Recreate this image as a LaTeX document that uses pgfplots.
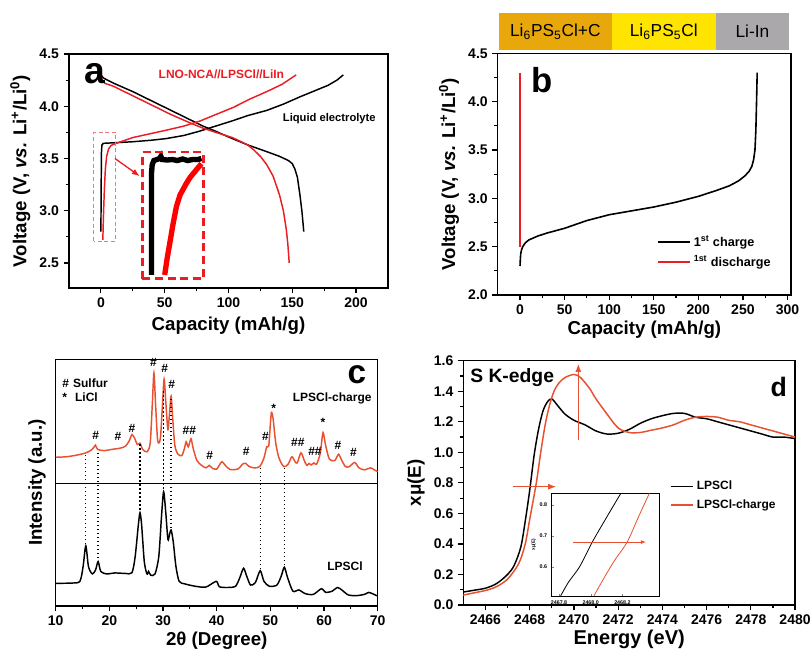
\documentclass[border=0pt]{standalone}
\usepackage{pgfplots}
\pgfplotsset{compat=1.18}
\usetikzlibrary{arrows.meta}
\usepackage{fontspec}
\setmainfont{Liberation Sans}
\definecolor{ored}{RGB}{232,80,48}
\definecolor{pred}{RGB}{236,28,36}
\definecolor{barorange}{RGB}{232,168,12}
\definecolor{baryellow}{RGB}{255,228,0}
\definecolor{bargray}{RGB}{170,168,170}
\pgfplotsset{
  panel/.style={
    scale only axis,
    anchor=south west,
    axis line style={line width=1.1pt},
    tick align=outside,
    tick pos=left,
    major tick length=4pt, minor tick length=2.5pt,
    every tick/.style={line width=0.9pt, black},
    tick label style={font=\fontsize{10.5}{12}\selectfont\bfseries},
    label style={font=\fontsize{14}{16}\selectfont\bfseries},
    /pgf/number format/assume math mode=true,
    /pgf/number format/1000 sep={},
    clip=false,
  },
  onedec/.style={/pgf/number format/.cd, fixed, fixed zerofill, precision=1},
  leglines/.style={legend image code/.code={\draw[mark repeat=2,mark phase=2,##1] plot coordinates {(0cm,0cm) (#1/2,0cm) (#1,0cm)};}},
}
\begin{document}
\begin{tikzpicture}
\useasboundingbox (0,0) rectangle (608.25pt,487.5pt);
% ---------------- panel a ----------------
\begin{axis}[panel, at={(51.75pt,271.5pt)}, width=239.25pt, height=175.5pt,
  xmin=-25, xmax=225, ymin=2.26, ymax=4.5,
  xtick={0,50,100,150,200}, ytick={2.5,3.0,3.5,4.0,4.5}, minor tick num=1,
  yticklabel style={onedec},
  xlabel={Capacity (mAh/g)},
  ylabel={Voltage (V, \textit{vs.} Li\textsuperscript{+}/Li\textsuperscript{0})}]
\addplot[black, line width=1.1pt] coordinates {(0,2.80)(0.2,3.2)(0.4,3.55)(0.8,3.63)(2,3.645)(10,3.65)(25,3.66)(40,3.675)(51,3.69)(65,3.72)(77,3.76)(90,3.81)(103,3.86)(115,3.91)(130,3.96)(143,4.02)(156,4.09)(168,4.15)(178,4.2)(185,4.25)(190,4.30)};
\addplot[black, line width=1.1pt] coordinates {(0,4.30)(2,4.27)(10,4.22)(25,4.14)(40,4.05)(55,3.96)(70,3.87)(80,3.81)(90,3.76)(103,3.69)(115,3.63)(130,3.565)(140,3.52)(147,3.48)(150,3.45)(152,3.40)(154,3.32)(156,3.15)(157.5,3.0)(159,2.80)};
\addplot[pred, line width=1.1pt] coordinates {(1.5,2.72)(2,2.95)(2.7,3.2)(3.5,3.4)(4.5,3.52)(6,3.59)(8,3.625)(12,3.645)(25,3.70)(51,3.77)(65,3.81)(78,3.86)(90,3.92)(104,3.99)(117,4.07)(130,4.14)(142,4.21)(153,4.30)};
\addplot[pred, line width=1.1pt] coordinates {(0,4.30)(1,4.25)(3,4.22)(10,4.19)(25,4.10)(40,4.01)(55,3.92)(70,3.84)(80,3.79)(90,3.75)(103,3.70)(110,3.66)(115,3.63)(120,3.58)(125,3.52)(130,3.44)(135,3.33)(140,3.15)(143,3.0)(145.3,2.82)(146.5,2.68)(147.6,2.5)};
% zoomed inset drawn in axis units
\addplot[black, line width=4pt] coordinates {(39.6,2.385)(39.6,3.35)(40.2,3.44)(41.5,3.48)(44,3.49)(46,3.50)(47,3.52)(48,3.49)(52,3.485)(56,3.49)(60,3.48)(64,3.495)(68,3.48)(72,3.49)(76,3.49)(78.8,3.50)};
\addplot[red, line width=4pt] coordinates {(50,2.385)(52,2.55)(54,2.69)(56.5,2.87)(59.2,3.04)(62,3.15)(66.9,3.26)(70,3.32)(74.7,3.39)(78.8,3.45)};
\draw[pred!60, densely dashed, line width=0.6pt] (axis cs:-5.5,2.71) rectangle (axis cs:11.7,3.75);
\draw[pred, line width=1.8pt, dash pattern=on 6pt off 3.5pt] (axis cs:32.6,2.35) rectangle (axis cs:80.5,3.56);
\draw[-{Latex[length=6pt]}, pred, line width=1pt] (axis cs:11,3.50) -- (axis cs:30.5,3.33);
\node[font=\fontsize{28}{30}\selectfont\bfseries] at (axis cs:-4.7,4.31) {a};
\node[pred, font=\fontsize{9}{10}\selectfont\bfseries] at (axis cs:94.4,4.31) {LNO-NCA//LPSCl//LiIn};
\node[font=\fontsize{8.4}{10}\selectfont\bfseries] at (axis cs:179,3.88) {Liquid electrolyte};
\end{axis}
% ---------------- panel b ----------------
\fill[barorange] (374.25pt,450pt) rectangle (458.8pt,477.75pt);
\fill[baryellow] (458.8pt,450pt) rectangle (536.8pt,477.75pt);
\fill[bargray] (536.8pt,450pt) rectangle (591.75pt,477.75pt);
\node[font=\fontsize{13}{14}\selectfont] at (416.5pt,463.9pt) {Li\textsubscript{6}PS\textsubscript{5}Cl+C};
\node[font=\fontsize{13}{14}\selectfont] at (497.8pt,463.9pt) {Li\textsubscript{6}PS\textsubscript{5}Cl};
\node[font=\fontsize{13}{14}\selectfont] at (564.3pt,463.9pt) {Li-In};
\begin{axis}[panel, at={(373.3pt,266.25pt)}, width=220pt, height=181.3pt,
  xmin=-25, xmax=304, ymin=2, ymax=4.5,
  xtick={0,50,100,150,200,250,300}, ytick={2.0,2.5,3.0,3.5,4.0,4.5}, minor tick num=1,
  yticklabel style={onedec},
  xlabel={Capacity (mAh/g)}, xlabel style={yshift=2pt},
  ylabel={Voltage (V, \textit{vs.} Li\textsuperscript{+}/Li\textsuperscript{0})},
  legend style={draw=none, fill=none, at={(0.53,0.27)}, anchor=north west,
    font=\fontsize{9.5}{11}\selectfont\bfseries, row sep=1.5pt},
  legend cell align=left, leglines=0.84cm]
\addplot[black, line width=1.2pt] coordinates {(0,2.30)(0.3,2.36)(0.7,2.42)(1.5,2.46)(3,2.5)(6,2.54)(10,2.57)(20,2.61)(30,2.64)(50,2.69)(75,2.77)(100,2.83)(125,2.87)(150,2.91)(175,2.96)(200,3.02)(220,3.08)(235,3.13)(245,3.18)(252,3.23)(257,3.28)(260,3.33)(262,3.40)(263.5,3.5)(264.5,3.7)(265.3,4.0)(266,4.3)};
\addlegendentry{1\textsuperscript{st} charge}
\addplot[pred, line width=1.4pt] coordinates {(0,2.5)(0,4.3)};
\addlegendentry{\textsuperscript{1st} discharge}
\node[font=\fontsize{26}{28}\selectfont\bfseries] at (axis cs:24.3,4.22) {b};
\end{axis}
% ---------------- panel c ----------------
\begin{axis}[panel, at={(41.8pt,33pt)}, width=241.5pt, height=185pt,
  xmin=10, xmax=70, ymin=0, ymax=1,
  xtick={10,20,30,40,50,60,70}, ytick=\empty, minor x tick num=1,
  xlabel={2θ (Degree)}, xlabel style={yshift=2pt}, ylabel={Intensity (a.u.)}]
\addplot[ored, line width=1.1pt, smooth, tension=0.45] coordinates {(10,0.603)(12,0.605)(14,0.612)(15.5,0.62)(16.5,0.63)(17.0,0.64)(17.4,0.652)(17.8,0.635)(19,0.63)(20.5,0.635)(22,0.64)(23,0.648)(23.7,0.67)(24.2,0.695)(24.7,0.68)(25.2,0.655)(25.7,0.66)(26.2,0.635)(27,0.625)(27.6,0.66)(28.0,0.82)(28.3,0.945)(28.6,0.82)(29.0,0.67)(29.5,0.68)(29.9,0.82)(30.2,0.92)(30.5,0.83)(30.9,0.715)(31.2,0.78)(31.5,0.85)(31.8,0.76)(32.2,0.65)(32.8,0.615)(33.5,0.61)(34.0,0.64)(34.3,0.666)(34.7,0.645)(35.2,0.678)(35.6,0.64)(36.3,0.59)(37.2,0.57)(38.0,0.56)(38.6,0.57)(39.2,0.558)(40.0,0.555)(40.6,0.575)(41.0,0.585)(41.6,0.57)(42.5,0.553)(44.0,0.556)(44.8,0.575)(45.4,0.578)(46,0.566)(47,0.56)(48,0.565)(48.8,0.6)(49.3,0.645)(49.7,0.65)(50.0,0.74)(50.2,0.785)(50.5,0.76)(51.0,0.66)(51.6,0.6)(52.5,0.565)(53.3,0.575)(54.0,0.605)(54.6,0.585)(55.0,0.58)(55.7,0.621)(56.3,0.59)(56.8,0.57)(57.2,0.578)(57.6,0.572)(58.1,0.58)(58.6,0.575)(59.3,0.62)(59.8,0.703)(60.3,0.65)(61,0.595)(62,0.59)(62.7,0.615)(63.3,0.59)(64,0.565)(64.7,0.565)(65.7,0.582)(66.5,0.56)(67.5,0.552)(68.7,0.56)(69.5,0.55)(70,0.545)};
\addplot[black, line width=1.1pt, smooth, tension=0.45] coordinates {(10,0.092)(13,0.093)(14.5,0.10)(15.1,0.16)(15.6,0.244)(16.1,0.16)(16.8,0.13)(17.4,0.145)(17.9,0.18)(18.4,0.14)(19.5,0.13)(21,0.134)(23,0.132)(24.2,0.135)(24.8,0.2)(25.4,0.33)(25.7,0.378)(26.0,0.33)(26.5,0.18)(27.0,0.13)(27.3,0.14)(27.7,0.125)(28.5,0.13)(29.2,0.2)(29.7,0.36)(30.1,0.463)(30.5,0.38)(30.9,0.27)(31.2,0.29)(31.5,0.308)(31.9,0.26)(32.4,0.16)(33,0.1)(34,0.09)(36,0.08)(38,0.077)(39.9,0.1)(40.5,0.078)(42,0.075)(43.5,0.08)(44.3,0.115)(45,0.153)(45.6,0.12)(46.3,0.085)(47.2,0.095)(48.1,0.143)(48.8,0.1)(49.8,0.08)(51.2,0.085)(52,0.12)(52.6,0.157)(53.2,0.115)(54.2,0.06)(55.3,0.065)(56.5,0.05)(58,0.047)(59.5,0.07)(60.3,0.055)(61.5,0.06)(62.5,0.075)(63.3,0.065)(64.5,0.045)(66,0.042)(67.5,0.047)(68.3,0.055)(69,0.05)(70,0.04)};
\addplot[black, line width=1.1pt] coordinates {(10,0.497)(70,0.497)};
\addplot[black, dotted, line width=1pt] coordinates {(15.6,0.612)(15.6,0.25)};
\addplot[black, dotted, line width=1pt] coordinates {(17.9,0.62)(17.9,0.19)};
\addplot[black, dotted, line width=1pt] coordinates {(25.7,0.655)(25.7,0.385)};
\addplot[black, dotted, line width=1pt] coordinates {(30.1,0.87)(30.1,0.47)};
\addplot[black, dotted, line width=1pt] coordinates {(31.5,0.84)(31.5,0.315)};
\addplot[black, dotted, line width=1pt] coordinates {(48.1,0.56)(48.1,0.15)};
\addplot[black, dotted, line width=1pt] coordinates {(52.6,0.56)(52.6,0.165)};
\begin{scope}[every node/.style={font=\fontsize{9}{10}\selectfont\bfseries, inner sep=0pt}]
\node[anchor=west] at (axis cs:11.2,0.905) {\#\,\,Sulfur};
\node[anchor=west] at (axis cs:11.2,0.845) {*\,\,\,\,LiCl};
\node[anchor=east] at (axis cs:68.9,0.842) {LPSCl-charge};
\node at (axis cs:63.9,0.162) {LPSCl};
\node at (axis cs:17.45,0.693) {\#};
\node at (axis cs:21.6,0.686) {\#};
\node at (axis cs:24.2,0.72) {\#};
\node at (axis cs:28.2,0.988) {\#};
\node at (axis cs:30.3,0.963) {\#};
\node at (axis cs:31.6,0.90) {\#};
\node at (axis cs:34.9,0.713) {\#\#};
\node at (axis cs:38.7,0.612) {\#};
\node at (axis cs:45.5,0.628) {\#};
\node at (axis cs:49.1,0.689) {\#};
\node at (axis cs:55.1,0.662) {\#\#};
\node at (axis cs:58.3,0.625) {\#\#};
\node at (axis cs:62.6,0.65) {\#};
\node at (axis cs:65.5,0.621) {\#};
\node at (axis cs:50.6,0.80) {*};
\node at (axis cs:59.8,0.745) {*};
\end{scope}
\node[font=\fontsize{25}{27}\selectfont\bfseries] at (axis cs:66.1,0.936) {c};
\end{axis}
% ---------------- panel d ----------------
\begin{axis}[panel, at={(347.5pt,33.75pt)}, width=248.8pt, height=183.2pt,
  xmin=2465, xmax=2480, ymin=0, ymax=1.6,
  xtick={2466,2468,...,2480}, ytick={0,0.2,...,1.6}, minor tick num=1,
  yticklabel style={onedec},
  xlabel={Energy (eV)}, xlabel style={yshift=3pt, font=\fontsize{15}{16}\selectfont\bfseries}, ylabel={xμ(E)},
  legend style={draw=none, fill=none, at={(0.61,0.53)}, anchor=north west,
    font=\fontsize{9}{10}\selectfont\bfseries, row sep=2pt},
  legend cell align=left, leglines=0.6cm]
\addplot[black, line width=1.1pt, smooth, tension=0.5] coordinates {(2465,0.085)(2465.5,0.097)(2466,0.11)(2466.5,0.14)(2467,0.2)(2467.3,0.26)(2467.6,0.38)(2467.8,0.55)(2468,0.75)(2468.2,0.98)(2468.4,1.15)(2468.6,1.27)(2468.8,1.33)(2469,1.35)(2469.3,1.3)(2469.6,1.25)(2470,1.21)(2470.5,1.18)(2471,1.14)(2471.5,1.12)(2472,1.125)(2472.5,1.15)(2473,1.19)(2473.5,1.22)(2474,1.24)(2474.5,1.255)(2475,1.255)(2475.5,1.23)(2476,1.22)(2476.5,1.2)(2477,1.18)(2477.5,1.16)(2478,1.14)(2478.5,1.12)(2479,1.1)(2479.5,1.1)(2480,1.09)};
\addlegendentry{LPSCl}
\addplot[ored, line width=1.1pt, smooth, tension=0.5] coordinates {(2465,0.065)(2465.5,0.08)(2466,0.095)(2466.5,0.12)(2467,0.17)(2467.5,0.27)(2467.8,0.4)(2468,0.56)(2468.3,0.8)(2468.5,1.0)(2468.7,1.18)(2468.9,1.31)(2469.1,1.4)(2469.3,1.45)(2469.6,1.49)(2470,1.51)(2470.3,1.49)(2470.7,1.42)(2471,1.35)(2471.5,1.25)(2472,1.16)(2472.5,1.13)(2473,1.13)(2473.5,1.145)(2474,1.16)(2474.5,1.18)(2475,1.21)(2475.5,1.23)(2476,1.235)(2476.5,1.23)(2477,1.21)(2477.5,1.2)(2478,1.18)(2478.5,1.16)(2479,1.14)(2479.5,1.12)(2480,1.1)};
\addlegendentry{LPSCl-charge}
\draw[-{Latex[length=6pt]}, ored, line width=1pt] (axis cs:2467.25,0.775) -- (axis cs:2469.2,0.775);
\draw[-{Latex[length=6pt]}, ored, line width=1pt] (axis cs:2470.2,1.08) -- (axis cs:2470.2,1.58);
\node[font=\fontsize{14.5}{16}\selectfont\bfseries, anchor=west] at (axis cs:2465.1,1.49) {S K-edge};
\node[font=\fontsize{20}{22}\selectfont\bfseries] at (axis cs:2479.26,1.43) {d};
\end{axis}
% inset of d
\begin{axis}[at={(413.8pt,40.5pt)}, anchor=south west, scale only axis, width=80.7pt, height=77pt,
  xmin=2467.754, xmax=2468.433, ymin=0.505, ymax=0.838,
  axis background/.style={fill=white},
  xtick={2467.8,2468.0,2468.2}, ytick={0.6,0.7,0.8},
  tick label style={font=\fontsize{4}{5}\selectfont\bfseries},
  xticklabel style={/pgf/number format/.cd, fixed, fixed zerofill, precision=1, 1000 sep={}},
  yticklabel style={/pgf/number format/.cd, fixed, fixed zerofill, precision=1},
  /pgf/number format/assume math mode=true,
  major tick length=1.5pt, tick pos=left,
  ylabel={xμ(E)}, ylabel style={font=\fontsize{3.5}{4}\selectfont\bfseries, yshift=-4pt},
  axis line style={line width=0.6pt}, clip=true]
\addplot[black, line width=0.6pt, smooth] coordinates {(2467.81,0.505)(2467.86,0.55)(2467.93,0.6)(2468.01,0.68)(2468.1,0.76)(2468.19,0.838)};
\addplot[ored, line width=0.6pt, smooth] coordinates {(2468.02,0.505)(2468.08,0.56)(2468.15,0.62)(2468.23,0.68)(2468.3,0.76)(2468.37,0.838)};
\draw[-{Latex[length=4pt]}, ored, line width=0.8pt] (axis cs:2467.89,0.68) -- (axis cs:2468.35,0.68);
\end{axis}
\end{tikzpicture}
\end{document}
